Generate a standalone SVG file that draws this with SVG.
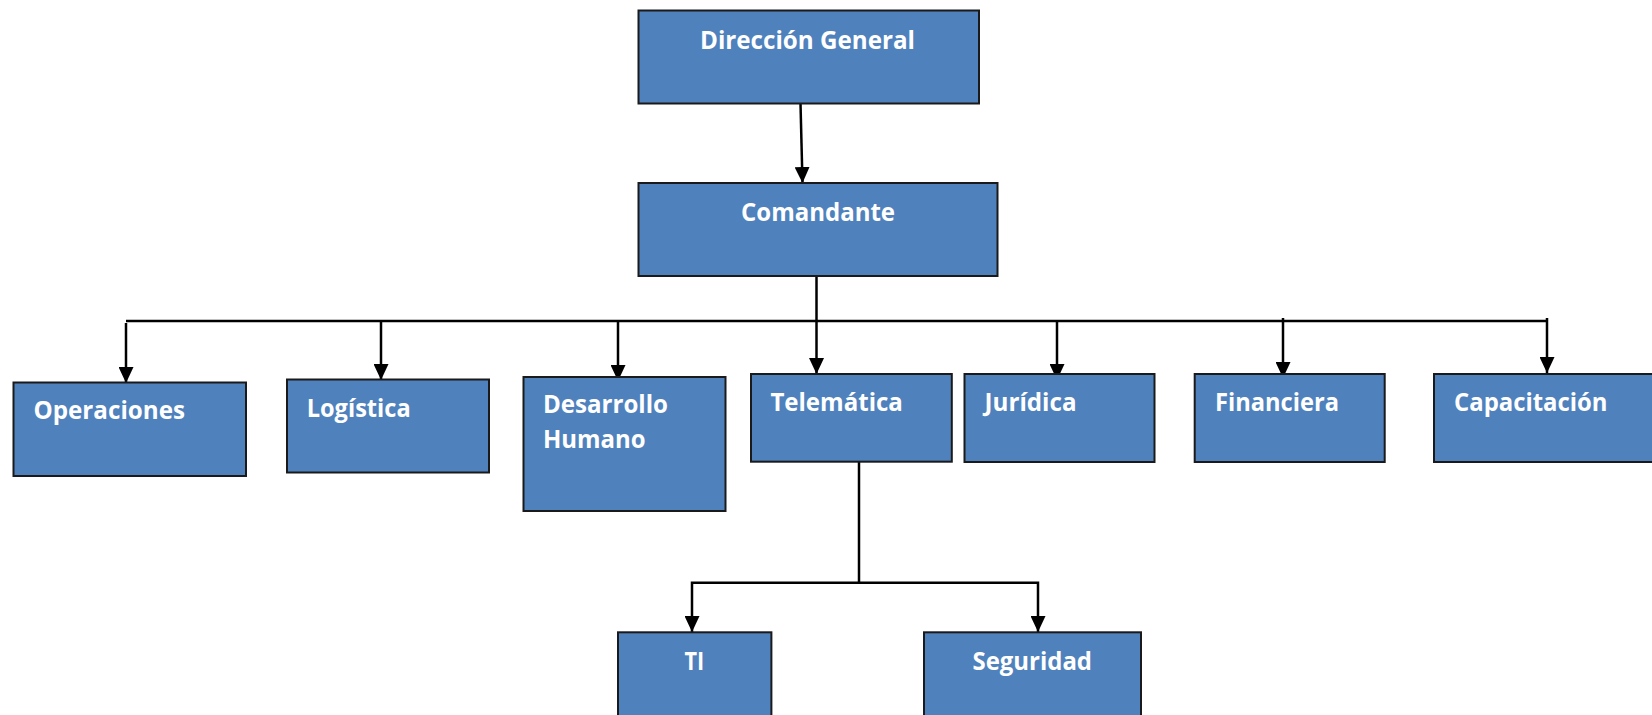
<svg xmlns="http://www.w3.org/2000/svg" width="1652" height="715" viewBox="0 0 1652 715">
  <style>
    .box { fill: #4f81bd; stroke: #1a1a1a; stroke-width: 2; }
    .lbl { fill: #ffffff; font-family: "Open Sans", "Liberation Sans", sans-serif; font-weight: 700; font-size: 25px; }
    .con { fill: none; stroke: #000000; stroke-width: 2.5; }
  </style>
  <defs>
    <marker id="arr" viewBox="0 0 16 15" refX="16" refY="7.5" markerWidth="16" markerHeight="15" markerUnits="userSpaceOnUse" orient="auto">
      <path d="M0,0 L16,7.5 L0,15 z" fill="#000000"/>
    </marker>
  </defs>
  <rect width="1652" height="715" fill="#ffffff"/>

  <g id="connectors">
    <line class="con" x1="800.5" y1="103.5" x2="802.5" y2="183" marker-end="url(#arr)"/>
    <line class="con" x1="816.5" y1="276" x2="816.5" y2="374" marker-end="url(#arr)"/>
    <line class="con" x1="126" y1="321" x2="1547" y2="321"/>
    <line class="con" x1="126" y1="323" x2="126" y2="383" marker-end="url(#arr)"/>
    <line class="con" x1="381" y1="321" x2="381" y2="380" marker-end="url(#arr)"/>
    <line class="con" x1="618" y1="321" x2="618" y2="381" marker-end="url(#arr)"/>
    <line class="con" x1="1057" y1="321" x2="1057" y2="380" marker-end="url(#arr)"/>
    <line class="con" x1="1283" y1="318" x2="1283" y2="378" marker-end="url(#arr)"/>
    <line class="con" x1="1547" y1="318" x2="1547" y2="373" marker-end="url(#arr)"/>
    <line class="con" x1="859" y1="461.7" x2="859" y2="582.7"/>
    <polyline class="con" points="859,582.7 1038,582.7 1038,632" marker-end="url(#arr)"/>
    <polyline class="con" points="859,582.7 692,582.7 692,632" marker-end="url(#arr)"/>
  </g>

  <g id="direccion-general">
    <rect class="box" x="638.5" y="10.5" width="340.5" height="93"/>
    <text class="lbl" x="700" y="48.5" textLength="215" lengthAdjust="spacingAndGlyphs">Dirección General</text>
  </g>
  <g id="comandante">
    <rect class="box" x="638.5" y="183" width="359" height="93"/>
    <text class="lbl" x="741" y="221" textLength="154" lengthAdjust="spacingAndGlyphs">Comandante</text>
  </g>
  <g id="operaciones">
    <rect class="box" x="13.5" y="382.5" width="232.5" height="93.5"/>
    <text class="lbl" x="33.5" y="419" textLength="151.5" lengthAdjust="spacingAndGlyphs">Operaciones</text>
  </g>
  <g id="logistica">
    <rect class="box" x="287" y="379.5" width="202" height="93"/>
    <text class="lbl" x="306.7" y="416.7" textLength="104" lengthAdjust="spacingAndGlyphs">Logística</text>
  </g>
  <g id="desarrollo-humano">
    <rect class="box" x="523.5" y="377" width="202" height="134"/>
    <text class="lbl" x="543" y="413.3" textLength="125" lengthAdjust="spacingAndGlyphs">Desarrollo</text>
    <text class="lbl" x="543" y="448.3" textLength="102.5" lengthAdjust="spacingAndGlyphs">Humano</text>
  </g>
  <g id="telematica">
    <rect class="box" x="751" y="374" width="200.8" height="87.7"/>
    <text class="lbl" x="770.4" y="410.7" textLength="132.5" lengthAdjust="spacingAndGlyphs">Telemática</text>
  </g>
  <g id="juridica">
    <rect class="box" x="964.5" y="374" width="190" height="88"/>
    <text class="lbl" x="984.5" y="410.5" textLength="92" lengthAdjust="spacingAndGlyphs">Jurídica</text>
  </g>
  <g id="financiera">
    <rect class="box" x="1194.7" y="374" width="190" height="88"/>
    <text class="lbl" x="1215" y="410.5" textLength="124" lengthAdjust="spacingAndGlyphs">Financiera</text>
  </g>
  <g id="capacitacion">
    <rect class="box" x="1434" y="374" width="225" height="88"/>
    <text class="lbl" x="1454" y="410.5" textLength="153.5" lengthAdjust="spacingAndGlyphs">Capacitación</text>
  </g>
  <g id="ti">
    <rect class="box" x="618" y="632.3" width="153.4" height="95"/>
    <text class="lbl" x="684.6" y="670" textLength="19.7" lengthAdjust="spacingAndGlyphs">TI</text>
  </g>
  <g id="seguridad">
    <rect class="box" x="924" y="632.3" width="217" height="95"/>
    <text class="lbl" x="972.5" y="670" textLength="119.5" lengthAdjust="spacingAndGlyphs">Seguridad</text>
  </g>
</svg>
